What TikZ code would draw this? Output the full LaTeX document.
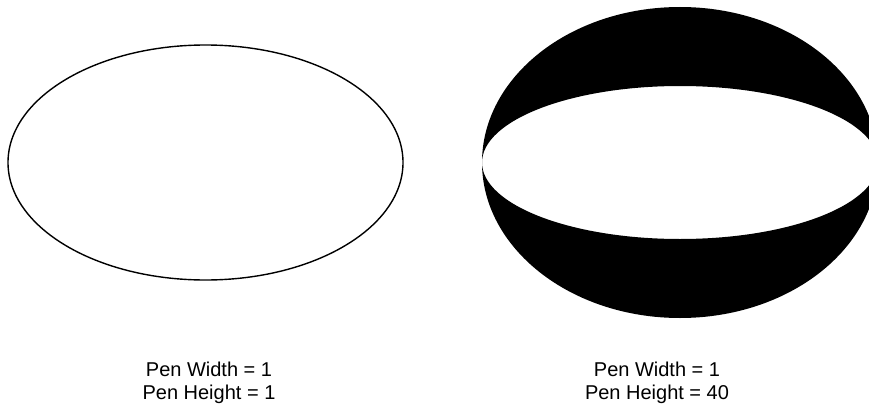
\documentclass[tikz,border=0pt]{standalone}
\usepackage{fontspec}
\setmainfont{Liberation Sans}
\usepackage{tikz}

\tikzset{
  penlabel/.style={align=center, inner sep=0pt,
    font=\fontsize{20}{23}\selectfont},
  thinpen/.style={draw=black, line width=1.4pt}
}

\begin{document}
\begin{tikzpicture}[x=1pt, y=-1pt]
    \useasboundingbox (0,0) rectangle (869,412);
    \clip (0,0) rectangle (869,412);
    % pen 1 x 1
    \coordinate (thin) at (205.5,162.5);
    \draw[thinpen] (thin) ellipse [x radius=197.5, y radius=117.5];
    % pen 1 x 40
    \coordinate (tall) at (680,162.5);
    \fill[black, even odd rule] (tall) ellipse [x radius=198, y radius=155.5]
          (tall) ellipse [x radius=198, y radius=76.5];
    \node[penlabel] (thinlabel) at (209,383) {Pen Width = 1\\Pen Height = 1};
    \node[penlabel] (tallabel) at (657,383) {Pen Width = 1\\Pen Height = 40};
  \end{tikzpicture}
\end{document}
